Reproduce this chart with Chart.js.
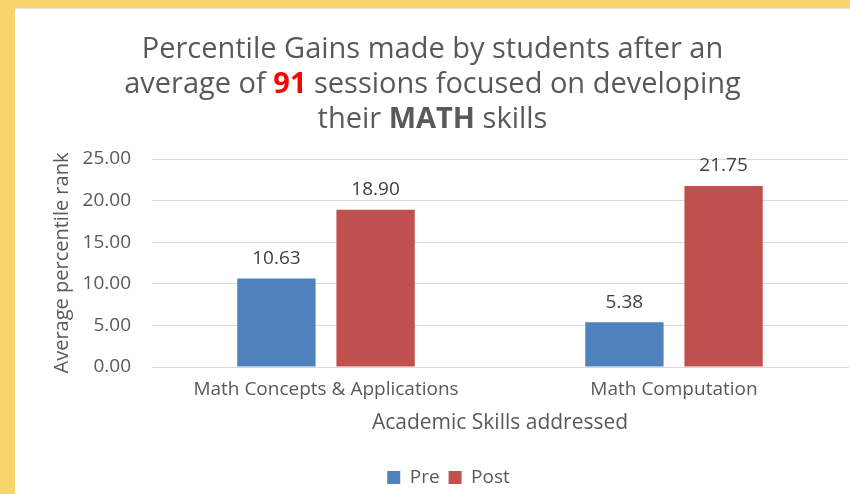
<!DOCTYPE html>
<html>
<head>
<meta charset="utf-8">
<script src="https://cdn.jsdelivr.net/npm/chart.js@4.4.1/dist/chart.umd.min.js"></script>
<style>
  html, body { margin: 0; padding: 0; }
  body { width: 850px; height: 494px; background: #F8D56B; position: relative; overflow: hidden; font-family: "Open Sans", sans-serif; }
  #panel { position: absolute; left: 15px; top: 8px; width: 835px; height: 486px; background: #FFFFFF; border-top: 1px solid #E3E3E3; box-sizing: border-box; }
  #title { position: absolute; left: 0; top: 20px; width: 835px; text-align: center; color: #595959; font-size: 29px; line-height: 35px; font-family: "Open Sans", sans-serif; }
  #title .red { color: #FF0000; font-weight: bold; }
  #title .b { font-weight: bold; }
  #wrap { position: absolute; left: 0; top: 0; width: 835px; height: 486px; }
</style>
</head>
<body>
<div id="panel">
  <div id="wrap"><canvas id="c" width="835" height="486"></canvas></div>
  <div id="title">Percentile Gains made by students after an<br>average of <span class="red">91</span> sessions focused on developing<br>their <span class="b">MATH</span> skills</div>
</div>
<script>
const categories = ["Math Concepts & Applications", "Math Computation"];
const seriesNames = ["Pre", "Post"];
const preValues = [10.63, 5.38];
const postValues = [18.90, 21.75];
const yTicks = [0, 5, 10, 15, 20, 25];
const xAxisTitle = "Academic Skills addressed";
const yAxisTitle = "Average percentile rank";

const FONT = "'Open Sans', sans-serif";
const TEXT = "#595959";

const dataLabels = {
  id: 'dataLabels',
  afterDatasetsDraw(chart) {
    const ctx = chart.ctx;
    ctx.save();
    ctx.font = "19px " + FONT;
    ctx.fillStyle = "#404040";
    ctx.textAlign = "center";
    ctx.textBaseline = "middle";
    chart.data.datasets.forEach((ds, i) => {
      chart.getDatasetMeta(i).data.forEach((bar, j) => {
        ctx.fillText(ds.data[j].toFixed(2), bar.x, bar.y - 20);
      });
    });
    ctx.restore();
  }
};

const legendShift = {
  id: 'legendShift',
  afterLayout(chart) {
    const lg = chart.legend;
    if (lg) { lg.left += 17; lg.right += 17; lg.top += 5; lg.bottom += 5; }
  }
};

new Chart(document.getElementById('c'), {
  type: 'bar',
  data: {
    labels: categories,
    datasets: [
      { label: seriesNames[0], data: preValues, backgroundColor: "#4F81BD", borderColor: "#4F81BD", borderWidth: 0 },
      { label: seriesNames[1], data: postValues, backgroundColor: "#C0504D", borderColor: "#C0504D", borderWidth: 0 }
    ]
  },
  options: {
    responsive: false,
    animation: false,
    devicePixelRatio: 1,
    layout: { padding: { top: 150, left: 0, right: 2, bottom: 3 } },
    datasets: { bar: { categoryPercentage: 0.57, barPercentage: 0.79 } },
    plugins: {
      legend: {
        position: 'bottom',
        labels: { font: { size: 19, family: FONT }, color: TEXT, boxWidth: 13, boxHeight: 13, padding: 9 }
      },
      tooltip: { enabled: false },
      title: { display: false }
    },
    scales: {
      x: {
        grid: { display: false, drawTicks: false },
        border: { display: true, color: "#D9D9D9", width: 1 },
        ticks: { font: { size: 19, family: FONT }, color: TEXT, padding: 11, maxRotation: 0 },
        title: { display: true, text: xAxisTitle, font: { size: 21, family: FONT }, color: TEXT, padding: { top: 0, bottom: 18 } },
        afterFit(s) { s.height = 87; }
      },
      y: {
        min: 0, max: 25,
        afterBuildTicks(s) { s.ticks = yTicks.map(v => ({ value: v })); },
        grid: { color: "#D9D9D9", drawTicks: false },
        border: { display: false },
        ticks: { font: { size: 19, family: FONT }, color: TEXT, padding: 21, callback: v => Number(v).toFixed(2) },
        title: { display: true, text: yAxisTitle, font: { size: 20, family: FONT }, color: TEXT, padding: { top: 35, bottom: 0 } },
        afterFit(s) { s.width = 137; }
      }
    }
  },
  plugins: [dataLabels, legendShift]
});
</script>
</body>
</html>
